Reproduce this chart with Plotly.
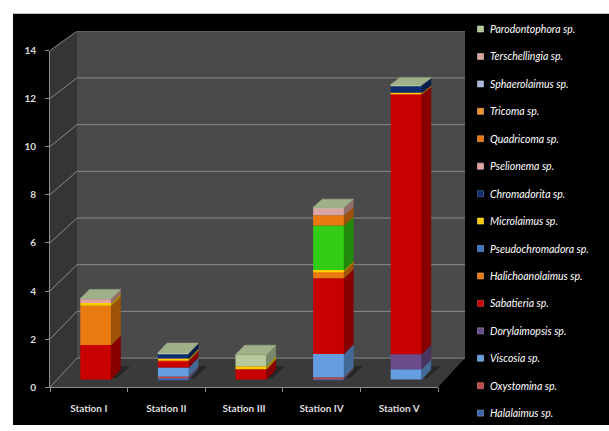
import plotly.graph_objects as go

# ---- data -----------------------------------------------------------------
stations = ["Station I", "Station II", "Station III", "Station IV", "Station V"]
y_ticks = [0, 2, 4, 6, 8, 10, 12, 14]

# abundance per station, one list per genus (stacking order: bottom -> top)
halalaimus = [0.00, 0.08, 0.00, 0.05, 0.00]
oxystomina = [0.00, 0.05, 0.00, 0.05, 0.00]
viscosia = [0.00, 0.38, 0.00, 0.97, 0.43]
dorylaimopsis = [0.00, 0.00, 0.00, 0.00, 0.63]
sabatieria = [1.45, 0.28, 0.43, 3.18, 10.91]
halichoanolaimus = [1.64, 0.03, 0.00, 0.27, 0.02]
pseudochromadora = [0.00, 0.00, 0.00, 0.00, 0.00]
microlaimus = [0.12, 0.06, 0.13, 0.07, 0.03]
other_genera = [0.00, 0.00, 0.00, 1.87, 0.00]
chromadorita = [0.00, 0.22, 0.00, 0.00, 0.31]
pselionema = [0.16, 0.00, 0.00, 0.00, 0.00]
quadricoma = [0.00, 0.00, 0.00, 0.43, 0.00]
tricoma = [0.00, 0.00, 0.00, 0.00, 0.00]
sphaerolaimus = [0.00, 0.00, 0.00, 0.00, 0.00]
terschellingia = [0.00, 0.00, 0.00, 0.30, 0.00]
parodontophora = [0.03, 0.03, 0.48, 0.03, 0.03]

# (name, values, front colour, in legend)
series = [
    ("Halalaimus sp.", halalaimus, "#3d66ad", True),
    ("Oxystomina sp.", oxystomina, "#c24a48", True),
    ("Viscosia sp.", viscosia, "#659ee0", True),
    ("Dorylaimopsis sp.", dorylaimopsis, "#6b4d8c", True),
    ("Sabatieria sp.", sabatieria, "#c80000", True),
    ("Halichoanolaimus sp.", halichoanolaimus, "#e97a10", True),
    ("Pseudochromadora sp.", pseudochromadora, "#3f72c6", True),
    ("Microlaimus sp.", microlaimus, "#ffcc00", True),
    ("Other genera", other_genera, "#33cc14", False),
    ("Chromadorita sp.", chromadorita, "#0e2c72", True),
    ("Pselionema sp.", pselionema, "#e3a2a2", True),
    ("Quadricoma sp.", quadricoma, "#e8790f", True),
    ("Tricoma sp.", tricoma, "#f0922c", True),
    ("Sphaerolaimus sp.", sphaerolaimus, "#a8b8d8", True),
    ("Terschellingia sp.", terschellingia, "#d9a4a4", True),
    ("Parodontophora sp.", parodontophora, "#b6c89c", True),
]

# ---- 3-D projection helpers -------------------------------------------------
DEPTH_X = 27 / 77.6      # horizontal shift of the back wall, in category units
FLOOR_RISE = 1.21        # vertical rise of the back floor edge, in value units
SHRINK = 0.0294          # perspective shrink of the back wall scale
T_FRONT, T_BACK = 0.26, 0.60   # depth of bar front / back faces
HALF = 0.20              # half bar width


def proj(x, v, t):
    return x + t * DEPTH_X, v + t * (FLOOR_RISE - SHRINK * v)


def shade(hex_color, f):
    h = hex_color.lstrip("#")
    r, g, b = (int(h[i:i + 2], 16) for i in (0, 2, 4))
    if f <= 1:
        r, g, b = (int(c * f) for c in (r, g, b))
    else:
        k = f - 1
        r, g, b = (int(c + (255 - c) * k) for c in (r, g, b))
    return f"rgb({r},{g},{b})"


fig = go.Figure()

# ---- walls, floor and grid (drawn as shapes under the bars) -----------------
x_lo, x_hi = -0.5, len(stations) - 0.5
v_top = y_ticks[-1]
n = len(stations)


def path(points):
    return "M" + "L".join(f"{px},{py}" for px, py in points) + "Z"


walls = [
    ([proj(x_lo, 0, 0), proj(x_lo, 0, 1), proj(x_lo, v_top, 1), proj(x_lo, v_top, 0)], "#353535"),
    ([proj(x_lo, 0, 0), proj(x_hi, 0, 0), proj(x_hi, 0, 1), proj(x_lo, 0, 1)], "#3a3a3a"),
    ([proj(x_lo, 0, 1), proj(x_hi, 0, 1), proj(x_hi, v_top, 1), proj(x_lo, v_top, 1)], "#4a4a4a"),
]
shapes = []
for pts, col in walls:
    shapes.append(dict(type="path", xref="x", yref="y", path=path(pts),
                       fillcolor=col, line=dict(width=0), layer="below"))

grid_col = "#8a8a8a"
for v in y_ticks:
    (ax, ay), (bx, by) = proj(x_lo, v, 0), proj(x_lo, v, 1)
    shapes.append(dict(type="line", xref="x", yref="y", x0=ax, y0=ay, x1=bx, y1=by,
                       line=dict(color=grid_col, width=1), layer="below"))
    (cx, cy) = proj(x_hi, v, 1)
    shapes.append(dict(type="line", xref="x", yref="y", x0=bx, y0=by, x1=cx, y1=cy,
                       line=dict(color=grid_col, width=1), layer="below"))

# soft floor shadow behind each column
for i in range(n):
    pts = [proj(i - HALF - 0.03, 0, T_FRONT + 0.05), proj(i + HALF + 0.05, 0, T_FRONT + 0.05),
           proj(i + HALF + 0.08, 0, T_BACK + 0.12), proj(i - HALF, 0, T_BACK + 0.12)]
    shapes.append(dict(type="path", xref="x", yref="y", path=path(pts),
                       fillcolor="rgba(20,20,20,0.55)", line=dict(width=0), layer="below"))

# black chart area inside a thin white frame
shapes.insert(0, dict(type="rect", xref="paper", yref="paper", x0=13 / 609, x1=1,
                      y0=0, y1=1 - 7 / 431, fillcolor="black", line=dict(width=0),
                      layer="below"))

# ---- stacked 3-D columns ---------------------------------------------------
bottoms = [0.0] * n
totals = [sum(s[1][i] for s in series) for i in range(n)]
top_color = [None] * n

for name, vals, col, _ in series:
    fx, base, height = [], [], []
    sx, sy = [], []
    for i, val in enumerate(vals):
        lo, hi = bottoms[i], bottoms[i] + val
        bottoms[i] = hi
        if val <= 0:
            continue
        top_color[i] = col
        px, b0 = proj(i, lo, T_FRONT)
        _, b1 = proj(i, hi, T_FRONT)
        fx.append(px)
        base.append(b0)
        height.append(b1 - b0)
        quad = [proj(i + HALF, lo, T_FRONT), proj(i + HALF, hi, T_FRONT),
                proj(i + HALF, hi, T_BACK), proj(i + HALF, lo, T_BACK)]
        sx += [q[0] for q in quad] + [quad[0][0], None]
        sy += [q[1] for q in quad] + [quad[0][1], None]
    if not fx:
        continue
    fig.add_trace(go.Bar(x=fx, y=height, base=base, width=2 * HALF, name=name,
                         marker=dict(color=col, line=dict(width=0)),
                         showlegend=False, hoverinfo="skip"))
    fig.add_trace(go.Scatter(x=sx, y=sy, mode="lines", fill="toself",
                             fillcolor=shade(col, 0.68),
                             line=dict(width=0.5, color=shade(col, 0.68)),
                             showlegend=False, hoverinfo="skip"))

# top faces coloured by the uppermost segment
for i in range(n):
    quad = [proj(i - HALF, totals[i], T_FRONT), proj(i + HALF, totals[i], T_FRONT),
            proj(i + HALF, totals[i], T_BACK), proj(i - HALF, totals[i], T_BACK)]
    tc = shade(top_color[i], 0.88)
    fig.add_trace(go.Scatter(x=[q[0] for q in quad] + [quad[0][0]],
                             y=[q[1] for q in quad] + [quad[0][1]],
                             mode="lines", fill="toself", fillcolor=tc,
                             line=dict(width=0.5, color=tc),
                             showlegend=False, hoverinfo="skip"))

# front axes (value axis + category boundary ticks)
fig.add_trace(go.Scatter(x=[None], y=[None], xaxis="x2", yaxis="y2",
                         showlegend=False, hoverinfo="skip"))

# ---- legend (top to bottom = top of stack to bottom) -----------------------
legend_items = [s for s in reversed(series) if s[3]]
fig.add_trace(go.Scatter(
    x=[480.5] * len(legend_items), y=list(range(len(legend_items))),
    xaxis="x3", yaxis="y3", mode="markers",
    marker=dict(symbol="square", size=6, color=[s[2] for s in legend_items],
                line=dict(width=0.6, color=[shade(s[2], 1.35) for s in legend_items])),
    showlegend=False, hoverinfo="skip"))
annotations = []
for k, s in enumerate(legend_items):
    annotations.append(dict(x=488, y=k, xref="x3", yref="y3", text=s[0],
                            showarrow=False, xanchor="left", yanchor="middle",
                            font=dict(family="Lato", size=10.5, color="white",
                                      style="italic")))

label_font = dict(family="Lato", size=10, color="#dedede", weight="bold")
axis_col = "#8c8c8c"
y_span = FLOOR_RISE + v_top * (1 - SHRINK)

fig.update_layout(
    width=609, height=431, margin=dict(l=0, r=0, t=0, b=0),
    paper_bgcolor="white", plot_bgcolor="rgba(0,0,0,0)",
    barmode="overlay", showlegend=False, shapes=shapes, annotations=annotations,
    xaxis=dict(domain=[50 / 609, 465 / 609], range=[x_lo, x_hi + DEPTH_X],
               tickvals=list(range(n)), ticktext=stations, tickfont=label_font,
               ticks="outside", ticklen=12, tickcolor="rgba(0,0,0,0)",
               showgrid=False, zeroline=False, showline=False, fixedrange=True),
    yaxis=dict(domain=[1 - 392 / 431, 1 - 25 / 431], range=[0, y_span],
               visible=False, fixedrange=True),
    xaxis2=dict(domain=[50 / 609, 438 / 609], range=[x_lo, x_hi], anchor="y2",
                tickvals=[x_lo + k for k in range(n + 1)], ticktext=[""] * (n + 1),
                ticks="outside", ticklen=4, tickcolor=axis_col,
                showline=True, linecolor=axis_col, linewidth=1,
                showgrid=False, zeroline=False, fixedrange=True),
    yaxis2=dict(domain=[1 - 392 / 431, 1 - 45 / 431], range=[0, v_top], anchor="x2",
                tickvals=y_ticks, ticks="outside", ticklen=4, tickcolor=axis_col,
                showline=True, linecolor=axis_col, linewidth=1, tickfont=label_font,
                ticklabelstandoff=7,
                showgrid=False, zeroline=False, fixedrange=True),
    xaxis3=dict(domain=[470 / 609, 1], range=[470, 609], anchor="y3", visible=False,
                fixedrange=True),
    yaxis3=dict(domain=[0, 1 - 7 / 431],
                range=[(431 - 22.7) / 28.29, (7 - 22.7) / 28.29],
                anchor="x3", visible=False, fixedrange=True),
)

fig.write_html("out.html")
